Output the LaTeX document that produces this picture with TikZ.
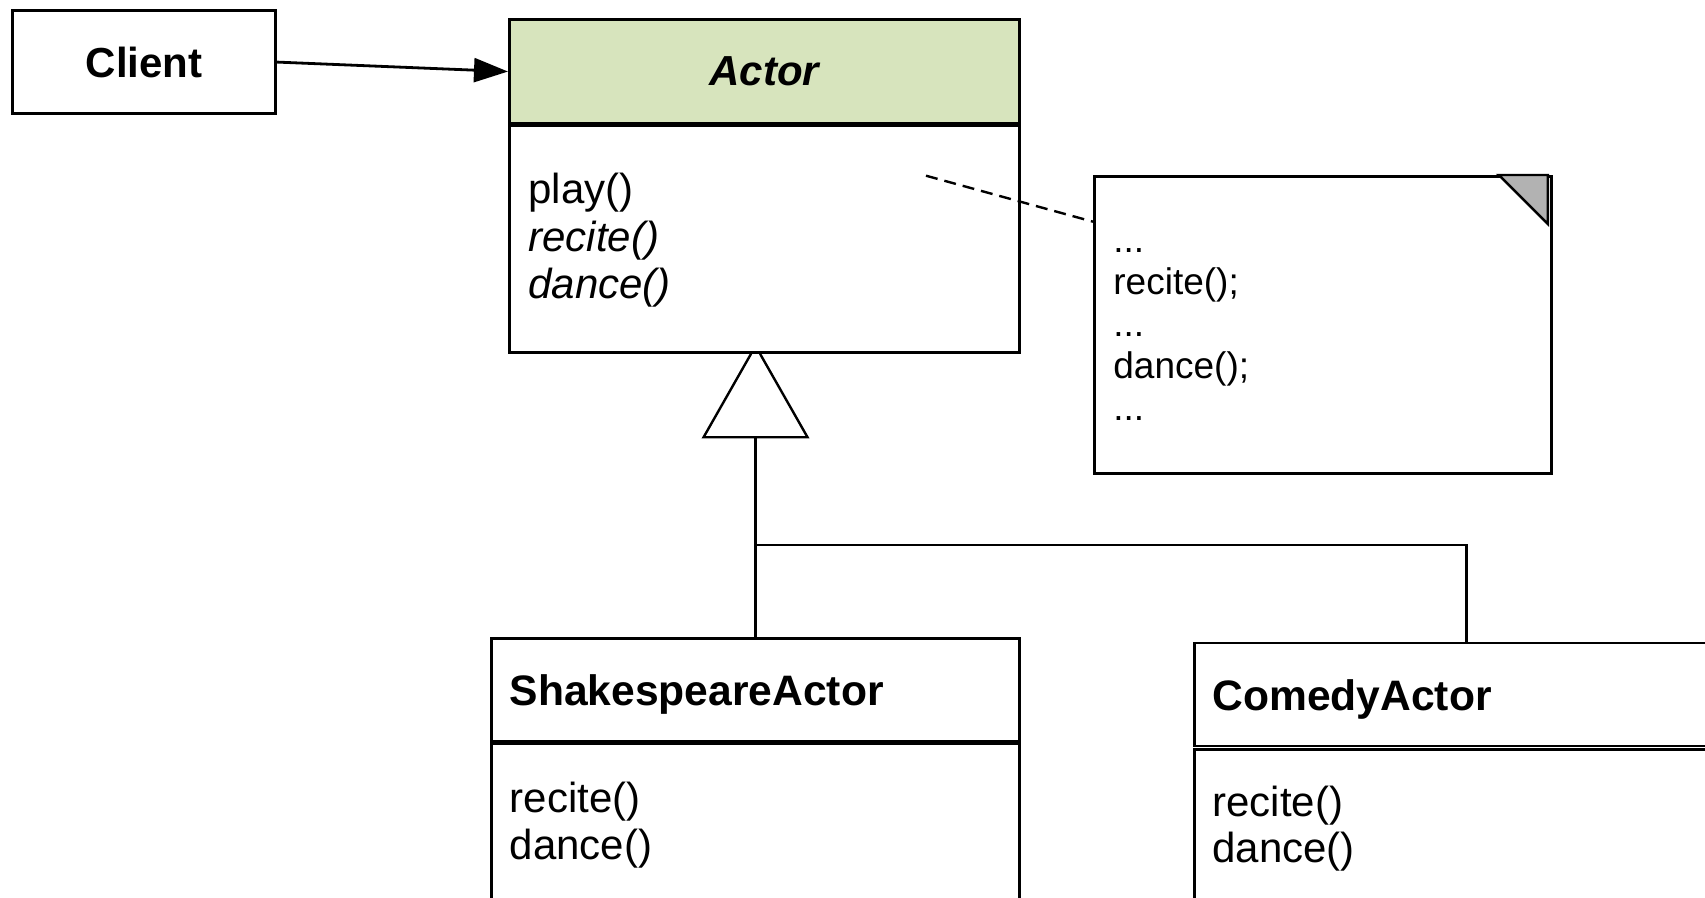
\documentclass[tikz,border=0pt]{standalone}
\usepackage{fontspec}
\setmainfont{Liberation Sans}
\usetikzlibrary{arrows.meta}
\definecolor{headgreen}{RGB}{215,228,189}
\definecolor{foldgray}{RGB}{178,178,178}

\begin{document}
\begin{tikzpicture}[x=0.5pt,y=0.5pt,yscale=-1,xscale=1,
  box/.style={draw, line width=1.4pt, rectangle, inner sep=0pt, anchor=north west, fill=white, font=\fontsize{21}{24}\selectfont},
  classname/.style={anchor=west, inner sep=0pt, text depth=0pt, font=\fontsize{21.3}{24}\selectfont\bfseries},
  method/.style={anchor=base west, inner sep=0pt, font=\fontsize{21}{24}\selectfont},
  abstract/.style={method, font=\fontsize{21}{24}\selectfont\itshape},
  notetext/.style={anchor=base west, inner sep=0pt, font=\fontsize{18.5}{21}\selectfont},
  assoc/.style={line width=1.4pt, -{Triangle[length=17pt,width=12pt]}},
  gen/.style={line width=1.2pt},
  notedash/.style={line width=1.2pt, dash pattern=on 6pt off 3.5pt}]
\useasboundingbox (0,0) rectangle (1705,898);
\clip (0,0) rectangle (1705,898);

% Classes
\node[box, minimum width=131.5pt, minimum height=51.5pt, line width=1.6pt, font=\fontsize{21}{24}\selectfont\bfseries] (client) at (11,9) {Client};
\node[box, fill=headgreen, minimum width=255pt, minimum height=51.65pt, font=\fontsize{21}{24}\selectfont\bfseries\itshape] (actorhead) at (508,18.5) {Actor};
\node[box, minimum width=255pt, minimum height=113.5pt] (actorbody) at (508,124) {};
\node[box, minimum width=263.85pt, minimum height=51.5pt] (shakehead) at (490.3,637) {};
\node[box, minimum width=263.85pt, minimum height=120pt] (shakebody) at (490.3,742.7) {};
\node[box, minimum width=272pt, minimum height=51.5pt] (comedyhead) at (1193,641.7) {};
\node[box, minimum width=272pt, minimum height=120pt] (comedybody) at (1193,748) {};

% Note
\node[box, minimum width=228.5pt, minimum height=148.5pt] (note) at (1093,175) {};
\filldraw[fill=foldgray, line width=1.2pt] ([xshift=-27pt]note.north east) -- ([xshift=-2.5pt]note.north east) -- ([xshift=-2.5pt,yshift=24.5pt]note.north east) -- cycle;

% Class names
\node[classname] (shakename) at ([xshift=9.5pt]shakehead.west) {ShakespeareActor};
\node[classname] (comedyname) at ([xshift=9.5pt]comedyhead.west) {ComedyActor};

% Methods
\node[method] (play) at (528,204) {play()};
\node[abstract] (recite) at (528,251.5) {recite()};
\node[abstract] (dance) at (528,299) {dance()};
\node[method] (shakerecite) at (509.5,812.7) {recite()};
\node[method] (shakedance) at (509.5,859.3) {dance()};
\node[method] (comedyrecite) at (1212,816.7) {recite()};
\node[method] (comedydance) at (1212,862.7) {dance()};

% Note text
\node[notetext] (dots1) at (1113,253) {...};
\node[notetext] (callrecite) at (1113,295) {recite();};
\node[notetext] (dots2) at (1113,337) {...};
\node[notetext] (calldance) at (1113,379) {dance();};
\node[notetext] (dots3) at (1113,421) {...};

% Connectors
\draw[assoc] (client.east) -- (actorhead.west);

\coordinate (tip) at (shakehead.north |- actorbody.south);
\draw[gen] ([xshift=-2.25pt]tip) -- ++(-47.5,83.5) -- ++(104,0) -- ++(-47.5,-83.5);
\coordinate (tribase) at ([yshift=41.75pt]tip);
\draw[gen] (tribase) -- (shakehead.north);
\draw[gen] (shakehead.north |- 0,545) -- (comedyhead.north |- 0,545) -- (comedyhead.north);

\coordinate (notelink) at (926,175.7);
\draw[notedash] (notelink) -- (note.west |- 0,221.7);

\end{tikzpicture}
\end{document}
